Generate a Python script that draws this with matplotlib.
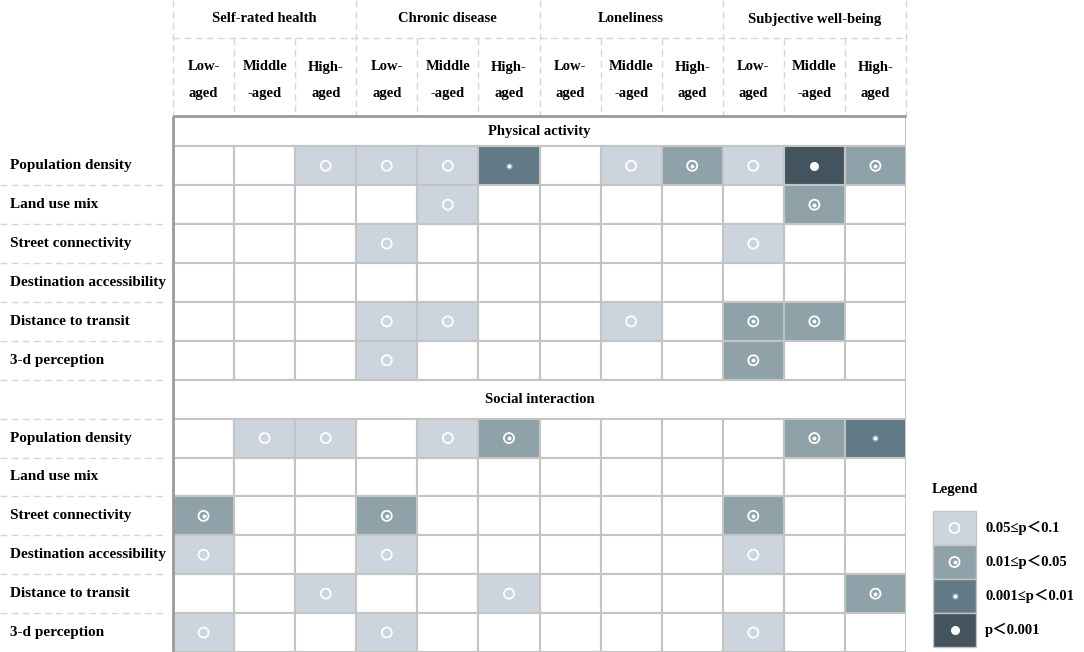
import numpy as np
import matplotlib
matplotlib.use('Agg')
import matplotlib.pyplot as plt
from matplotlib.patches import Rectangle

# outcome groups and age groups (columns)
groups = ['Self-rated health', 'Chronic disease', 'Loneliness', 'Subjective well-being']
ages_top = ['Low-', 'Middle', 'High-']
ages_bot = ['aged', '-aged', 'aged']

# row labels per section
sections = ['Physical activity', 'Social interaction']
variables = ['Population density', 'Land use mix', 'Street connectivity',
             'Destination accessibility', 'Distance to transit', '3-d perception']

# significance level per cell: 0 none, 1 0.05-0.1, 2 0.01-0.05, 3 0.001-0.01, 4 <0.001
physical = [
    [0, 0, 1, 1, 1, 3, 0, 1, 2, 1, 4, 2],
    [0, 0, 0, 0, 1, 0, 0, 0, 0, 0, 2, 0],
    [0, 0, 0, 1, 0, 0, 0, 0, 0, 1, 0, 0],
    [0, 0, 0, 0, 0, 0, 0, 0, 0, 0, 0, 0],
    [0, 0, 0, 1, 1, 0, 0, 1, 0, 2, 2, 0],
    [0, 0, 0, 1, 0, 0, 0, 0, 0, 2, 0, 0],
]
social = [
    [0, 1, 1, 0, 1, 2, 0, 0, 0, 0, 2, 3],
    [0, 0, 0, 0, 0, 0, 0, 0, 0, 0, 0, 0],
    [2, 0, 0, 2, 0, 0, 0, 0, 0, 2, 0, 0],
    [1, 0, 0, 1, 0, 0, 0, 0, 0, 1, 0, 0],
    [0, 0, 1, 0, 0, 1, 0, 0, 0, 0, 0, 2],
    [1, 0, 0, 1, 0, 0, 0, 0, 0, 1, 0, 0],
]
legend_labels = ['0.05≤p＜0.1', '0.01≤p＜0.05', '0.001≤p＜0.01', 'p＜0.001']

colors = ['white', '#ccd5dd', '#8fa2a9', '#627986', '#44545e']
halo = '#93a7b1'

serif = ['Liberation Serif', 'DejaVu Serif']
serif_cjk = ['Liberation Serif', 'Noto Sans CJK SC']

W, H = 1084, 652
fig = plt.figure(figsize=(W / 100, H / 100), dpi=100)
gx0, gx1, gy0 = 173, 906, 116
ax = fig.add_axes([gx0 / W, 0, (gx1 - gx0) / W, (H - gy0) / H])
ncol = 12
# first section header is a bit shorter than the other rows
heights = [0.78] + [1] * 6 + [1] + [1] * 6
edges = np.concatenate([[0], np.cumsum(heights)])
nrow = edges[-1]
ax.set_xlim(0, ncol)
ax.set_ylim(nrow, 0)
ax.axis('off')

colw = (gx1 - gx0) / ncol
rowh = (H - gy0) / nrow
def px_x(p):
    return (p - gx0) / colw
def px_y(p):
    return (p - gy0) / rowh

grid_c = '#c4c4c4'
dash_c = '#d6d6d6'


def draw_marker(x, y, level):
    if level == 1:
        ax.scatter(x, y, s=52, facecolors='none', edgecolors='white', linewidths=1.3, zorder=5, clip_on=False)
    elif level == 2:
        ax.scatter(x, y, s=52, facecolors='none', edgecolors='white', linewidths=1.3, zorder=5, clip_on=False)
        ax.scatter(x, y, s=8, c='white', linewidths=0, zorder=6, clip_on=False)
    elif level == 3:
        ax.scatter(x, y, s=22, c=halo, linewidths=0, zorder=5, clip_on=False)
        ax.scatter(x, y, s=7, c='white', linewidths=0, zorder=6, clip_on=False)
    elif level == 4:
        ax.scatter(x, y, s=42, c='white', linewidths=0, zorder=5, clip_on=False)


r = 0
for sec, data in zip(sections, [physical, social]):
    # section header row
    y0, h = edges[r], heights[r]
    ax.add_patch(Rectangle((0, y0), ncol, h, facecolor='white', edgecolor=grid_c, lw=1.5, zorder=1))
    ax.text(ncol / 2, y0 + h / 2, sec, ha='center', va='center', fontsize=10.5,
            fontweight='bold', family=serif)
    r += 1
    for vi, var in enumerate(variables):
        y0, h = edges[r], heights[r]
        for ci in range(ncol):
            lev = data[vi][ci]
            ax.add_patch(Rectangle((ci, y0), 1, h, facecolor=colors[lev], edgecolor=grid_c,
                                   lw=1.5, zorder=2 if lev else 1))
            draw_marker(ci + 0.5, y0 + h / 2, lev)
        ax.text(px_x(10), y0 + h / 2, var, ha='left', va='center', fontsize=11,
                fontweight='bold', family=serif, clip_on=False)
        r += 1

# dark outer border (top and left)
ax.plot([0, ncol], [0, 0], color='#9a9a9a', lw=2, zorder=7, clip_on=False, solid_capstyle='butt')
ax.plot([0, 0], [0, nrow], color='#9a9a9a', lw=2, zorder=7, clip_on=False, solid_capstyle='butt')

# dashed lines in label column
for b in edges[2:-1]:
    ax.plot([px_x(0), px_x(166)], [b, b], color=dash_c, lw=1, ls=(0, (5, 3)), clip_on=False, zorder=0)

# header area
ytop = px_y(0)
ymid = px_y(38)
for g in range(len(groups) + 1):
    ax.plot([g * 3, g * 3], [ytop, 0], color=dash_c, lw=1, ls=(0, (5, 3)), clip_on=False)
for ci in range(ncol):
    if ci % 3:
        ax.plot([ci, ci], [ymid, 0], color=dash_c, lw=1, ls=(0, (5, 3)), clip_on=False)
ax.plot([0, ncol], [ymid, ymid], color=dash_c, lw=1, ls=(0, (5, 3)), clip_on=False)

for gi, g in enumerate(groups):
    ax.text(gi * 3 + 1.5, px_y(19), g, ha='center', va='center', fontsize=10.5,
            fontweight='bold', family=serif, clip_on=False)
    for ai in range(3):
        xc = gi * 3 + ai + 0.5
        ax.text(xc, px_y(67), ages_top[ai], ha='center', va='center', fontsize=10.5,
                fontweight='bold', family=serif, clip_on=False)
        ax.text(xc, px_y(93), ages_bot[ai], ha='center', va='center', fontsize=10.5,
                fontweight='bold', family=serif, clip_on=False)

# legend
lx0 = px_x(933)
lw_ = 43 / colw
ly0 = 511
lh = 34
ax.text(px_x(932), px_y(490), 'Legend', ha='left', va='center', fontsize=10.5,
        fontweight='bold', family=serif, clip_on=False)
for li, lab in enumerate(legend_labels):
    y0 = px_y(ly0 + li * lh)
    y1 = px_y(ly0 + (li + 1) * lh)
    ax.add_patch(Rectangle((lx0, y0), lw_, y1 - y0, facecolor=colors[li + 1], edgecolor=grid_c,
                           lw=1, clip_on=False, zorder=2))
    draw_marker(lx0 + lw_ / 2, (y0 + y1) / 2, li + 1)
    ax.text(px_x(985), (y0 + y1) / 2, lab, ha='left', va='center', fontsize=10.5,
            fontweight='bold', family=serif_cjk, clip_on=False)

fig.savefig('out.png', dpi=100)
